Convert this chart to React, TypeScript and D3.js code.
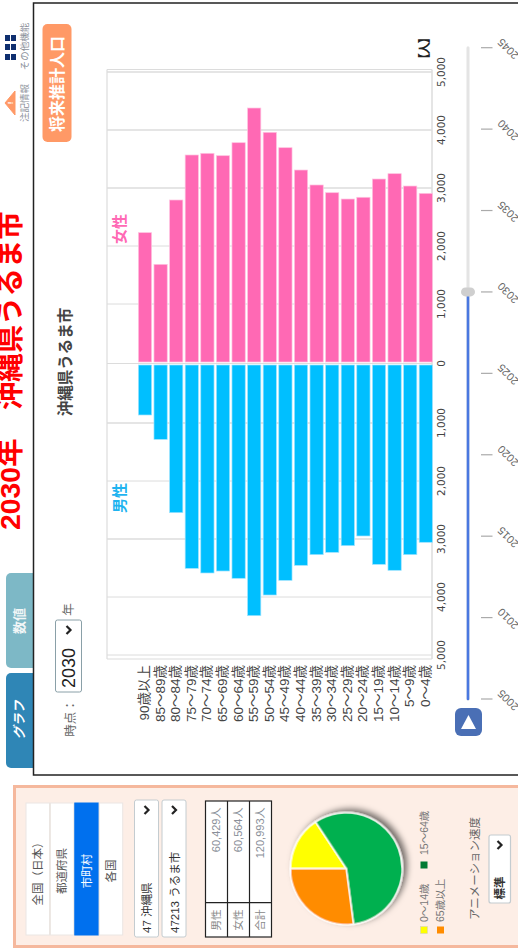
import React from "react";
import * as d3 from "d3";

const ageGroups = ["90歳以上","85～89歳","80～84歳","75～79歳","70～74歳","65～69歳","60～64歳","55～59歳","50～54歳","45～49歳","40～44歳","35～39歳","30～34歳","25～29歳","20～24歳","15～19歳","10～14歳","5～9歳","0～4歳"];
const femaleValues = [2230,1684,2793,3569,3598,3557,3781,4379,3960,3695,3310,3052,2919,2810,2840,3155,3247,3034,2908];
const maleValues = [862,1282,2546,3506,3586,3552,3678,4322,3966,3713,3454,3270,3230,3115,2948,3437,3540,3270,3057];
const axisTicks = [0,1000,2000,3000,4000,5000];
const sliderYears = [2005,2010,2015,2020,2025,2030,2035,2040,2045];
const currentYear = 2030;
const pieLabels = ["0～14歳","15～64歳","65歳以上"];
const pieValues = [19056,69172,32765];
const pieColors = ["#ffff00","#00b050","#ff8c00"];
const tableRows = [["男性","60,429人"],["女性","60,564人"],["合計","120,993人"]];
const regionButtons = ["全国（日本）","都道府県","市町村","各国"];

const FONT = "'Liberation Sans','Noto Sans CJK JP',sans-serif";
const H = 948;
const sy = (y: number) => H - y; // page y -> unrotated X

type TP = { x: number; y: number; size: number; fill?: string; weight?: any; anchor?: string; family?: string; style?: string; rotate?: number; children: any };
function T({ x, y, size, fill = "#555", weight = "normal", anchor = "middle", family = FONT, style, rotate, children }: TP) {
  return (
    <text x={x} y={y} dy="0.36em" fontSize={size} fill={fill} fontWeight={weight} textAnchor={anchor} fontFamily={family} fontStyle={style}
      transform={rotate ? `rotate(${rotate} ${x} ${y})` : undefined}>{children}</text>
  );
}

function Chevron({ x, y }: { x: number; y: number }) {
  return <path d={`M${x - 4},${y - 2}L${x},${y + 2}L${x + 4},${y - 2}`} fill="none" stroke="#222" strokeWidth={2.2} />;
}

export default function App() {
  const band = d3.scaleBand<string>().domain(ageGroups).range([137.2, 433.6]).paddingInner(0.15).paddingOuter(0.075);
  const xF = d3.scaleLinear().domain([0, 5000]).range([sy(362), sy(72)]);
  const xM = d3.scaleLinear().domain([0, 5000]).range([sy(365), sy(655)]);
  const sl = d3.scaleLinear().domain([2005, 2045]).range([sy(699), sy(47.7)]);
  const pieArcs = d3.pie<number>().sort(null)(pieValues);
  const arc = d3.arc<d3.PieArcDatum<number>>().innerRadius(0).outerRadius(56);
  const fmt = d3.format(",");
  const yTop = 107, yBottom = 432;

  return (
    <svg width={518} height={948} viewBox="0 0 518 948" style={{ position: "absolute", left: 0, top: 0, display: "block", background: "#fff" }}>
      <defs>
        <filter id="pieShadow" x="-30%" y="-30%" width="160%" height="160%">
          <feDropShadow dx={3} dy={4} stdDeviation={3} floodColor="#000" floodOpacity={0.55} />
        </filter>
      </defs>
      <g transform={`translate(0,${H}) rotate(-90)`}>
        {/* title */}
        <T x={sy(530)} y={10} size={28.4} fill="#ff0000" weight="bold" anchor="start">2030年　沖縄県うるま市</T>

        {/* tabs */}
        <rect x={sy(768)} y={6} width={95} height={34} rx={5} fill="#2f86b6" />
        <rect x={sy(668)} y={6} width={95} height={34} rx={5} fill="#7db8c6" />
        <T x={sy(720)} y={19} size={13} fill="#fff" weight="bold" style="italic">グラフ</T>
        <T x={sy(621)} y={19} size={13} fill="#f1f6f7" weight="bold">数値</T>

        {/* chart box */}
        <rect x={sy(775)} y={33.5} width={772} height={520} fill="#fff" stroke="#222" strokeWidth={1.5} />

        {/* icons */}
        <g fill="#0f2f6f">
          {[35, 44, 54].map((py) => [5, 11].map((px) => <rect key={`${py}-${px}`} x={sy(py + 6)} y={px} width={6} height={5} />))}
        </g>
        <path d={`M${sy(115)},15L${sy(91)},15L${sy(103)},5Z`} fill="#ff9966" stroke="#ff9966" strokeWidth={1} strokeLinejoin="round" />
        <T x={sy(103)} y={10.5} size={8} fill="#fff" weight="bold">!</T>
        <T x={sy(103)} y={25} size={9.5} fill="#8a8f99">注記情報</T>
        <T x={sy(46.5)} y={25} size={9.5} fill="#8a8f99">その他機能</T>

        {/* forecast button */}
        <rect x={sy(142)} y={42.5} width={118} height={29} rx={5} fill="#ff9966" />
        <T x={sy(84)} y={57} size={16} fill="#fff" weight="bold">将来推計人口</T>

        {/* chart title */}
        <T x={sy(362)} y={65} size={15.5} fill="#444" weight="bold">沖縄県うるま市</T>

        {/* time select */}
        <T x={sy(718)} y={70} size={12.5} fill="#666">時点：</T>
        <rect x={sy(692)} y={55.5} width={72} height={26} rx={2} fill="#fff" stroke="#8aa0a8" strokeWidth={1} />
        <T x={sy(688)} y={69} size={18} fill="#222" anchor="start">{currentYear}</T>
        <Chevron x={sy(630)} y={68.5} />
        <T x={sy(609.5)} y={68.5} size={12.5} fill="#666">年</T>

        {/* grid */}
        <g stroke="#dcdcdc" fill="none">
          {axisTicks.slice(1).map((t) => (
            <line key={`f${t}`} x1={xF(t)} x2={xF(t)} y1={yTop} y2={yBottom} strokeWidth={t === 1000 || t === 2000 ? 1 : 1.6} />
          ))}
          {axisTicks.slice(1).map((t) => (
            <line key={`m${t}`} x1={xM(t)} x2={xM(t)} y1={yTop} y2={yBottom} strokeWidth={t === 1000 || t === 3000 ? 1.6 : 1} />
          ))}
          <line x1={xM(5000) - 4} x2={xF(5000) + 2.5} y1={yTop} y2={yTop} strokeWidth={1.2} />
          <line x1={xM(5000) - 4} x2={xF(5000) + 2.5} y1={yBottom} y2={yBottom} strokeWidth={1.5} />
          <line x1={xM(5000) - 4} x2={xM(5000) - 4} y1={yTop} y2={yBottom} strokeWidth={1.2} />
          <line x1={xF(5000) + 2.5} x2={xF(5000) + 2.5} y1={yTop} y2={yBottom} strokeWidth={1.2} />
          <line x1={sy(363.5)} x2={sy(363.5)} y1={yTop} y2={yBottom} strokeWidth={1} />
        </g>

        {/* bars */}
        {ageGroups.map((a, i) => (
          <g key={a}>
            <rect x={xF(0)} y={band(a)!} width={xF(femaleValues[i]) - xF(0)} height={band.bandwidth()} fill="#ff69b4" stroke="#ffc3e0" strokeWidth={0.7} />
            <rect x={xM(maleValues[i])} y={band(a)!} width={xM(0) - xM(maleValues[i])} height={band.bandwidth()} fill="#00bfff" stroke="#9fe4ff" strokeWidth={0.7} />
            <T x={sy(665)} y={band(a)! + band.bandwidth() / 2 - 0.8} size={13.5} fill="#444" anchor="end">{a}</T>
          </g>
        ))}
        <T x={sy(229)} y={120} size={15} fill="#ff69b4" weight="bold">女性</T>
        <T x={sy(498)} y={120} size={15} fill="#1fb4f0" weight="bold">男性</T>

        {/* value axes */}
        {axisTicks.map((t) => (
          <T key={`tf${t}`} x={xF(t) - (t === 0 ? 1.5 : 0)} y={441} size={10.5} fill="#444" family="'DejaVu Sans',sans-serif">{fmt(t)}</T>
        ))}
        {axisTicks.slice(1).map((t) => (
          <T key={`tm${t}`} x={xM(t)} y={441} size={10.5} fill="#444" family="'DejaVu Sans',sans-serif">{fmt(t)}</T>
        ))}
        <text x={sy(49)} y={424.5} dy="0.36em" fontSize={12.5} fill="#222" textAnchor="middle" fontFamily={FONT} fontWeight="bold" letterSpacing={-1.5}>【人】</text>

        {/* slider */}
        <line x1={sl(2005)} x2={sl(2045)} y1={468} y2={468} stroke="#e4e4e4" strokeWidth={3} strokeLinecap="round" />
        <line x1={sl(2005)} x2={sl(currentYear)} y1={468} y2={468} stroke="#4a78e0" strokeWidth={2.6} strokeLinecap="round" />
        <rect x={sl(currentYear) - 4.5} y={461} width={9} height={14} rx={4.5} fill="#cfcfcf" />
        {sliderYears.map((yr) => (
          <g key={yr}>
            <line x1={sl(yr)} x2={sl(yr)} y1={481} y2={492.5} stroke="#aaa" strokeWidth={1.2} />
            <T x={sl(yr) - 1.3} y={508} size={11} fill="#666" rotate={-45}>{yr}</T>
          </g>
        ))}
        <rect x={sy(736)} y={455} width={28} height={27} rx={6} fill="#4a6fb5" />
        <path d={`M${sy(729)},461L${sy(715)},468.5L${sy(729)},476Z`} fill="#fff" />

        {/* bottom panel */}
        <rect x={sy(946.5)} y={14.5} width={160} height={520} fill="#fdeee6" stroke="#f5b89d" strokeWidth={3} />
        {regionButtons.map((b, i) => {
          const active = i === 2;
          return (
            <g key={b}>
              <rect x={sy(935)} y={26 + i * 24.4} width={132} height={23.5} fill={active ? "#0070ee" : "#fff"} stroke={active ? "#0070ee" : "#ebe6e3"} strokeWidth={1} />
              <T x={sy(871)} y={37.6 + i * 24.4} size={11.5} fill={active ? "#fff" : "#555"}>{b}</T>
            </g>
          );
        })}

        {/* selects */}
        {["47 沖縄県", "47213 うるま市"].map((s, i) => (
          <g key={s}>
            <rect x={sy(937)} y={134.5 + i * 27.5} width={137} height={24} rx={2} fill="#fff" stroke="#c4ccd0" strokeWidth={1} />
            <T x={sy(933)} y={147 + i * 27.5} size={11.5} fill="#333" anchor="start">{s}</T>
            <Chevron x={sy(810)} y={146.5 + i * 27.5} />
          </g>
        ))}

        {/* table */}
        <rect x={sy(937)} y={205.5} width={136} height={66} fill="#fff" stroke="#222" strokeWidth={1.2} />
        {[227.5, 249.5].map((y) => <line key={y} x1={sy(937)} x2={sy(801)} y1={y} y2={y} stroke="#222" strokeWidth={1.2} />)}
        <line x1={sy(902.7)} x2={sy(902.7)} y1={205.5} y2={271.5} stroke="#222" strokeWidth={1.2} />
        {tableRows.map(([k, v], i) => (
          <g key={k}>
            <T x={sy(920)} y={216.5 + i * 22} size={10.5} fill="#888">{k}</T>
            <T x={sy(807.5)} y={216.5 + i * 22} size={11} fill="#8a8f99" anchor="end">{v}</T>
          </g>
        ))}

        {/* pie */}
        <g transform={`translate(${sy(868.7)},346.3)`} filter="url(#pieShadow)">
          {pieArcs.map((d, i) => (
            <path key={i} d={arc(d)!} fill={pieColors[i]} stroke="#fff" strokeWidth={1.4} />
          ))}
        </g>

        {/* pie legend */}
        <rect x={sy(933.5)} y={420.5} width={7} height={7} fill={pieColors[0]} stroke="#ccc" strokeWidth={0.5} />
        <T x={sy(922)} y={424} size={10.5} fill="#777" anchor="start">{pieLabels[0]}</T>
        <rect x={sy(868.5)} y={420.5} width={7} height={7} fill="#007a33" />
        <T x={sy(855)} y={424} size={10.5} fill="#777" anchor="start">{pieLabels[1]}</T>
        <rect x={sy(933.5)} y={437} width={7} height={7} fill={pieColors[2]} />
        <T x={sy(922)} y={440.5} size={10.5} fill="#777" anchor="start">{pieLabels[2]}</T>

        {/* animation speed */}
        <T x={sy(868.5)} y={475} size={11.5} fill="#666">アニメーション速度</T>
        <rect x={sy(903)} y={489} width={68} height={21.5} rx={2} fill="#fff" stroke="#c4ccd0" strokeWidth={1.2} />
        <T x={sy(888)} y={500} size={11.5} fill="#333" weight="bold">標準</T>
        <Chevron x={sy(845)} y={499.5} />
      </g>
    </svg>
  );
}
